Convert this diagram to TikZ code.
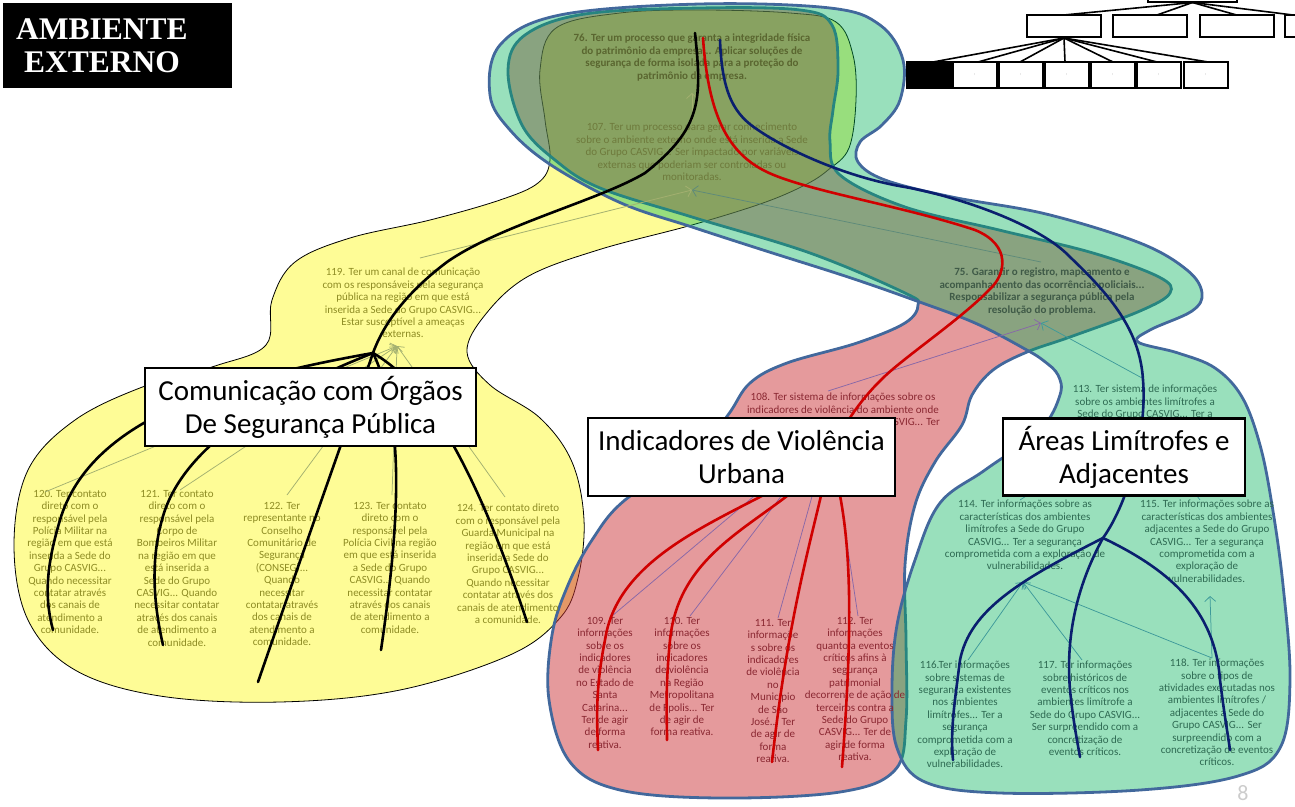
\documentclass[tikz,border=0pt]{standalone}
\usepackage{fontspec}
\setmainfont{Carlito}
\newfontfamily\titlefont{Liberation Serif}
\usetikzlibrary{arrows.meta}

\definecolor{yelF}{HTML}{FEFC96}
\definecolor{redF}{HTML}{CB3539}
\definecolor{grnF}{HTML}{00B258}
\definecolor{bord}{HTML}{42689C}
\definecolor{navy}{HTML}{0A1F6E}
\definecolor{redL}{HTML}{D00000}
\definecolor{txO}{HTML}{5A6630}
\definecolor{txP}{HTML}{6E7A3C}
\definecolor{txY}{HTML}{8E8C24}
\definecolor{txF}{HTML}{3F5A47}
\definecolor{txR}{HTML}{8A2832}
\definecolor{txG}{HTML}{2E6A52}
\definecolor{arY}{HTML}{A3B070}
\definecolor{arT}{HTML}{5E8A7A}
\definecolor{arR}{HTML}{8868A8}
\definecolor{arG}{HTML}{3E9A9A}

\begin{document}
\begin{tikzpicture}[x=1pt,y=-1pt,
  blob/.style={line width=2.8pt, draw=bord, line join=round},
  txt/.style={align=center, inner sep=0pt, anchor=north, font=\fontsize{11}{12.4}\selectfont},
  btxt/.style={txt, font=\fontsize{11}{12.5}\selectfont\bfseries},
  conn/.style={line width=2.6pt, line cap=round},
  fan/.style={line width=0.75pt, -{Straight Barb[length=5pt,width=11pt]}},
  lbl/.style={draw=black, line width=2.8pt, fill=white, align=center, inner sep=0pt,
              font=\fontsize{29}{33}\selectfont},
  tbox/.style={draw=black, line width=2pt, fill=white},
  tline/.style={line width=1.6pt}
]
\useasboundingbox (0,0) rectangle (1295,806);
\clip (0,0) rectangle (1295,806);

% ---------- cluster regions ----------
% yellow: Comunicação
\path[fill=yelF, draw=black, line width=0.8pt] plot[smooth cycle, tension=0.6] coordinates {
  (540,70) (556,28) (620,13) (700,10) (790,13) (836,22) (853,55) (856,100) (849,148)
  (828,170) (805,185) (763,203) (692,225) (598,250) (527,277) (485,315) (467,352)
  (490,385) (540,418) (572,462) (584,520) (578,578) (560,618) (510,655) (400,690)
  (280,702) (160,696) (75,670) (28,620) (14,545) (28,470) (75,420) (145,386)
  (215,366) (266,345) (272,300) (295,262) (350,238) (430,220) (500,200) (538,183)
  (550,160) (545,120)};
% red: Indicadores
\path[blob, fill=redF, fill opacity=0.5] plot[smooth cycle, tension=0.6] coordinates {
  (508,70) (525,35) (585,14) (700,8) (800,10) (832,25) (838,70) (833,110) (830,142)
  (840,175) (905,207) (999,230) (1093,253) (1159,277) (1170,293) (1140,311) (1070,337)
  (1027,352) (993,370) (972,395) (962,425) (935,462) (915,505) (905,565) (906,640)
  (906,720) (895,770) (840,792) (720,798) (620,790) (570,762) (549,700) (552,635)
  (568,585) (592,540) (625,500) (695,455) (728,415) (750,383) (787,363) (857,343)
  (905,323) (918,305) (905,293) (810,253) (692,217) (600,188) (555,160) (522,125)};
% green: Áreas
\path[blob, fill=grnF, fill opacity=0.4] plot[smooth cycle, tension=0.6] coordinates {
  (490,95) (500,45) (560,15) (700,4) (830,8) (880,25) (903,60) (900,100) (882,125)
  (860,142) (858,162) (885,180) (952,197) (1046,214) (1140,243) (1187,270) (1202,293)
  (1192,311) (1150,330) (1138,342) (1178,353) (1215,368) (1242,397) (1260,445)
  (1272,505) (1283,585) (1290,680) (1280,748) (1238,776) (1140,790) (1000,793)
  (925,782) (897,748) (892,690) (897,625) (915,560) (940,503) (985,470) (1040,430)
  (1060,395) (1058,375) (1044,361) (1025,349) (975,323) (914,300) (848,277) (763,250)
  (692,227) (621,203) (551,165) (510,130)};

% ---------- statements ----------
\node[btxt, text=txO] (n76) at (692,34) {76. Ter um processo que garanta a integridade física\\do patrimônio da empresa... Aplicar soluções de\\segurança de forma isolada para a proteção do\\patrimônio da empresa.};
\node[txt, text=txP] (n107) at (692,123) {107. Ter um processo para gerar conhecimento\\sobre o ambiente externo onde está inserida a Sede\\do Grupo CASVIG... Ser impactado por variáveis\\externas que poderiam ser controladas ou\\monitoradas.};
\node[txt, text=txY] (n119) at (403,268) {119. Ter um canal de comunicação\\com os responsáveis pela segurança\\pública na região em que está\\inserida a Sede do Grupo CASVIG...\\Estar susceptível a ameaças\\externas.};
\node[btxt, text=txF] (n75) at (1042,268) {75. Garantir o registro, mapeamento e\\acompanhamento das ocorrências policiais...\\Responsabilizar a segurança pública pela\\resolução do problema.};
\node[txt, text=txR] (n108) at (843,393) {108. Ter sistema de informações sobre os\\indicadores de violência do ambiente onde\\está inserida a Sede do Grupo CASVIG... Ter};
\node[txt, text=txG] (n113) at (1145,385) {113. Ter sistema de informações\\sobre os ambientes limítrofes a\\Sede do Grupo CASVIG... Ter a};

\node[txt, text=txY] (n120) at (70,490) {120. Ter contato\\direto com o\\responsável pela\\Polícia Militar na\\região em que está\\inserida a Sede do\\Grupo CASVIG...\\Quando necessitar\\contatar através\\dos canais de\\atendimento a\\comunidade.};
\node[txt, text=txY] (n121) at (177,490) {121. Ter contato\\direto com o\\responsável pela\\Corpo de\\Bombeiros Militar\\na região em que\\está inserida a\\Sede do Grupo\\CASVIG... Quando\\necessitar contatar\\através dos canais\\de atendimento a\\comunidade.};
\node[txt, text=txY] (n122) at (282,502) {122. Ter\\representante no\\Conselho\\Comunitário de\\Segurança\\(CONSEG)...\\Quando\\necessitar\\contatar através\\dos canais de\\atendimento a\\comunidade.};
\node[txt, text=txY] (n123) at (390,502) {123. Ter contato\\direto com o\\responsável pela\\Polícia Civil na região\\em que está inserida\\a Sede do Grupo\\CASVIG... Quando\\necessitar contatar\\através dos canais\\de atendimento a\\comunidade.};
\node[txt, text=txY] (n124) at (508,504) {124. Ter contato direto\\com o responsável pela\\Guarda Municipal na\\região em que está\\inserida a Sede do\\Grupo CASVIG...\\Quando necessitar\\contatar através dos\\canais de atendimento\\a comunidade.};

\node[txt, text=txR] (n109) at (605,617) {109. Ter\\informações\\sobre os\\indicadores\\de violência\\no Estado de\\Santa\\Catarina...\\Ter de agir\\de forma\\reativa.};
\node[txt, text=txR] (n110) at (682,617) {110. Ter\\informações\\sobre os\\indicadores\\de violência\\na Região\\Metropolitana\\de Fpolis... Ter\\de agir de\\forma reativa.};
\node[txt, text=txR] (n111) at (773,619) {111. Ter\\informaçõe\\s sobre os\\indicadores\\de violência\\no\\Município\\de São\\José... Ter\\de agir de\\forma\\reativa.};
\node[txt, text=txR] (n112) at (855,617) {112. Ter\\informações\\quanto a eventos\\críticos afins à\\segurança\\patrimonial\\decorrente de ação de\\terceiros contra a\\Sede do Grupo\\CASVIG... Ter de\\agir de forma\\reativa.};

\node[txt, text=txG] (n114) at (1025,500) {114. Ter informações sobre as\\características dos ambientes\\limítrofes a Sede do Grupo\\CASVIG... Ter a segurança\\comprometida com a exploração de\\vulnerabilidades.};
\node[txt, text=txG] (n115) at (1207,500) {115. Ter informações sobre as\\características dos ambientes\\adjacentes a Sede do Grupo\\CASVIG... Ter a segurança\\comprometida com a\\exploração de\\vulnerabilidades.};
\node[txt, text=txG] (n116) at (965,661) {116.Ter informações\\sobre sistemas de\\segurança existentes\\nos ambientes\\limítrofes... Ter a\\segurança\\comprometida com a\\exploração de\\vulnerabilidades.};
\node[txt, text=txG] (n117) at (1085,661) {117. Ter informações\\sobre históricos de\\eventos críticos nos\\ambientes limítrofe a\\Sede do Grupo CASVIG...\\Ser surpreendido com a\\concretização de\\eventos críticos.};
\node[txt, text=txG] (n118) at (1217,659) {118. Ter informações\\sobre o tipos de\\atividades executadas nos\\ambientes limítrofes /\\adjacentes a Sede do\\Grupo CASVIG... Ser\\surpreendido com a\\concretização de eventos\\críticos.};

% ---------- link anchors ----------
\coordinate (a76) at (692,93);
\coordinate (a107t) at (692,121);
\coordinate (a107) at (692,190);
\coordinate (a119) at (397,346);
\coordinate (a119t) at (420,258);
\coordinate (a75) at (1041,323);
\coordinate (a75t) at (1041,262);
\coordinate (a108) at (830,432);
\coordinate (a108t) at (828,391);
\coordinate (a113) at (1142,420);
\coordinate (a113b) at (1142,378);
\coordinate (a114) at (1023,582);
\coordinate (a115) at (1210,596);
\foreach \n/\x/\y in {120/45/492, 121/180/490, 122/287/495, 123/392/495, 124/505/497}
  \coordinate (s\n) at (\x,\y);
\foreach \n/\x/\y in {109/612/616, 110/690/616, 111/778/618, 112/858/616}
  \coordinate (s\n) at (\x,\y);
\foreach \n/\x/\y in {114/1020/500, 115/1200/500, 116/968/660, 117/1082/660, 118/1212/658}
  \coordinate (s\n) at (\x,\y);

% ---------- thin links ----------
\draw[fan, arY] (a107t) -- (a76);
\draw[fan, arY] (a119t) -- (a107);
\draw[fan, arT] (a75t) -- (a107);
\foreach \n in {120,121,122,123,124} \draw[fan, arY] (s\n) -- (a119);
\draw[fan, arR] (a108t) -- (a75);
\foreach \n in {109,110,111,112} \draw[fan, arR] (s\n) -- (a108);
\draw[fan, arG] (a113b) -- (a75);
\foreach \n in {114,115} \draw[fan, arG] (s\n) -- (a113);
\foreach \n in {116,117,118} \draw[fan, arG] (s\n) -- (a114);
\draw[fan, arG] (s118) -- (a115);

% ---------- thick paths ----------
\coordinate (kTop) at (695,33);
\coordinate (kHub) at (373,353);
\coordinate (k120) at (53,630);
\coordinate (k121) at (163,645);
\coordinate (k122) at (258,682);
\coordinate (k123) at (381,650);
\coordinate (k124) at (527,622);
\draw[conn, black] (kTop) .. controls (702,100) and (702,128) .. (645,173)
  .. controls (600,200) and (500,225) .. (447,262)
  .. controls (410,290) and (385,320) .. (kHub);
\draw[conn, black] (kHub) .. controls (220,380) and (90,420) .. (60,520)
  .. controls (45,570) and (45,600) .. (k120);
\draw[conn, black] (kHub) .. controls (280,390) and (190,440) .. (165,510)
  .. controls (148,560) and (155,610) .. (k121);
\draw[conn, black] (kHub) .. controls (350,420) and (300,560) .. (k122);
\draw[conn, black] (kHub) .. controls (405,420) and (400,520) .. (k123);
\draw[conn, black] (kHub) .. controls (420,380) and (470,450) .. (k124);

\coordinate (rTop) at (703,38);
\coordinate (rHub) at (830,455);
\coordinate (r109) at (598,750);
\coordinate (r110) at (667,740);
\coordinate (r111) at (772,762);
\coordinate (r112) at (842,767);
\draw[conn, redL] (rTop) .. controls (708,110) and (725,150) .. (763,170)
  .. controls (800,190) and (900,205) .. (975,230)
  .. controls (1012,245) and (1006,275) .. (989,290)
  .. controls (960,320) and (900,360) .. (881,380)
  .. controls (860,400) and (840,430) .. (rHub);
\draw[conn, redL] (rHub) .. controls (760,510) and (620,540) .. (605,640)
  .. controls (595,690) and (597,720) .. (r109);
\draw[conn, redL] (rHub) .. controls (780,520) and (680,540) .. (670,640)
  .. controls (665,690) and (667,720) .. (r110);
\draw[conn, redL] (rHub) .. controls (815,530) and (790,600) .. (r111);
\draw[conn, redL] (rHub) .. controls (850,520) and (855,600) .. (r112);

\coordinate (nTop) at (720,40);
\coordinate (nHub) at (1103,538);
\coordinate (n116e) at (953,760);
\coordinate (n117e) at (1080,757);
\coordinate (n118e) at (1230,750);
\draw[conn, navy] (nTop) .. controls (722,95) and (735,115) .. (758,130)
  .. controls (790,152) and (850,178) .. (905,187)
  .. controls (960,197) and (1040,225) .. (1070,257)
  .. controls (1110,295) and (1140,330) .. (1143,380)
  .. controls (1147,430) and (1130,500) .. (nHub);
\draw[conn, navy] (nHub) .. controls (1020,580) and (970,610) .. (960,660)
  .. controls (955,700) and (950,730) .. (n116e);
\draw[conn, navy] (nHub) .. controls (1080,580) and (1065,630) .. (1070,690)
  .. controls (1073,720) and (1077,740) .. (n117e);
\draw[conn, navy] (nHub) .. controls (1170,570) and (1215,610) .. (1220,680)
  .. controls (1225,720) and (1228,735) .. (n118e);

% ---------- cluster titles ----------
\node[lbl, minimum width=331pt, minimum height=78pt] (L1) at (310.5,407) {Comunicação com Órgãos\\De Segurança Pública};
\node[lbl, minimum width=307pt, minimum height=78pt] (L2) at (741.5,457) {Indicadores de Violência\\Urbana};
\node[lbl, minimum width=242pt, minimum height=77pt] (L3) at (1124,457) {Áreas Limítrofes e\\Adjacentes};

% ---------- heading ----------
\fill[black] (3,3) rectangle (232,88);
\node[text=white, align=center, inner sep=0pt, font=\fontsize{31.5}{33}\titlefont\bfseries] (title) at (102,46) {AMBIENTE\\EXTERNO};

% ---------- hierarchy miniature ----------
\node[tbox, minimum width=89pt, minimum height=20pt, inner sep=0pt] (t0) at (1192.5,-8.5) {};
\foreach \i/\x in {1/1064, 2/1150, 3/1236.5, 4/1322} {
  \node[tbox, minimum width=74pt, minimum height=22pt, inner sep=0pt] (u\i) at (\x,26) {};
}
\foreach \i/\x in {1/1064, 2/1157, 3/1236.5, 4/1293}
  \draw[tline] (t0.south) -- (\x,15);
\foreach \i/\x in {1/928.5, 2/975, 3/1021, 4/1067, 5/1113, 6/1159, 7/1205.5} {
  \node[tbox, minimum width=44pt, minimum height=26pt, inner sep=0pt,
        font=\fontsize{4}{4}\selectfont, text=gray] (w\i) at (\x,75) {:};
}
\fill[black] (906,62) rectangle (951,88);
\foreach \x in {933, 978, 1020, 1065, 1113, 1157, 1208}
  \draw[tline] (u1.south) -- (\x,62);

% page number
\node[text=black!20, anchor=base, inner sep=0pt, font=\fontsize{22}{22}\selectfont] (pg) at (1243,800) {8};
\end{tikzpicture}
\end{document}
